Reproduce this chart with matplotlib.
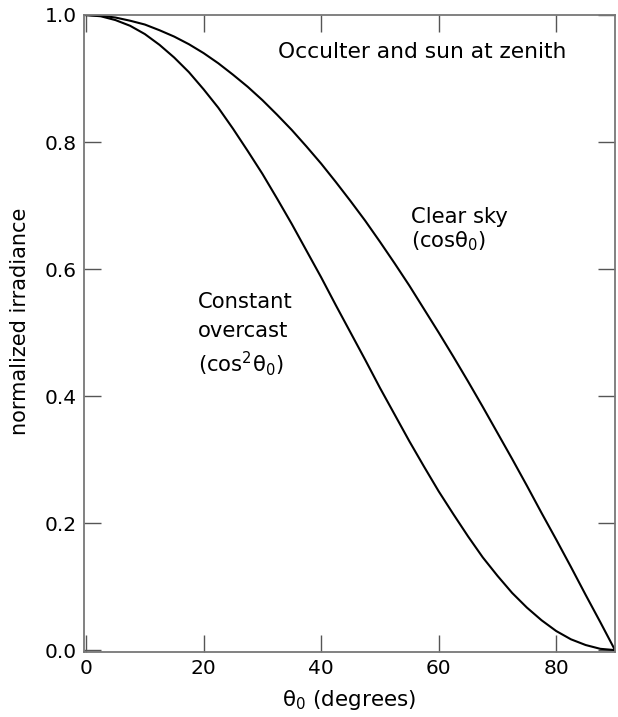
import numpy as np
import matplotlib; matplotlib.use("Agg")
import matplotlib.pyplot as plt

# ── Data (2.5 degree steps) ───────────────────────────────────────────
theta = [0, 2.5, 5, 7.5, 10, 12.5, 15, 17.5, 20, 22.5, 25, 27.5, 30, 32.5, 35,
         37.5, 40, 42.5, 45, 47.5, 50, 52.5, 55, 57.5, 60, 62.5, 65, 67.5, 70,
         72.5, 75, 77.5, 80, 82.5, 85, 87.5, 90]
clear_sky = [1.000, 0.999, 0.996, 0.991, 0.985, 0.976, 0.966, 0.954, 0.940, 0.924,
             0.906, 0.887, 0.866, 0.843, 0.819, 0.793, 0.766, 0.737, 0.707, 0.676,
             0.643, 0.609, 0.574, 0.537, 0.500, 0.462, 0.423, 0.383, 0.342, 0.301,
             0.259, 0.216, 0.174, 0.131, 0.087, 0.044, 0.000]
overcast = [1.000, 0.998, 0.992, 0.983, 0.970, 0.953, 0.933, 0.910, 0.883, 0.854,
            0.821, 0.786, 0.750, 0.711, 0.671, 0.629, 0.587, 0.543, 0.500, 0.457,
            0.413, 0.371, 0.329, 0.289, 0.250, 0.214, 0.179, 0.146, 0.117, 0.090,
            0.067, 0.047, 0.030, 0.017, 0.008, 0.002, 0.000]
xticks = [0, 20, 40, 60, 80]
yticks = [0.0, 0.2, 0.4, 0.6, 0.8, 1.0]

plt.rcParams["font.family"] = ["DejaVu Sans"]
plt.rcParams["mathtext.fontset"] = "dejavusans"

fig = plt.figure(figsize=(6.18, 7.17), dpi=100)
ax = fig.add_axes([84/618, 1 - 652/717, 531/618, 637/717])

ax.plot(theta, clear_sky, color="black", lw=1.5)
ax.plot(theta, overcast, color="black", lw=1.5)

ax.set_xlim(-0.35, 90)
ax.set_ylim(-0.003, 1.0)
ax.set_xticks(xticks)
ax.set_yticks(yticks)
ax.set_xticklabels([str(t) for t in xticks])
ax.set_yticklabels([f"{t:.1f}" for t in yticks])
for s in ax.spines.values():
    s.set_color("#777777")
    s.set_linewidth(1.3)
ax.tick_params(direction="in", length=12, width=1, color="#555555",
               top=True, right=True, labelsize=14.5, pad=5)

ax.set_xlabel(r"θ$_0$ (degrees)", fontsize=15.5, labelpad=7)
fig.text(20/618, 1 - 321/717, "normalized irradiance", fontsize=15,
         rotation=90, ha="center", va="center")

# ── Annotations (baselines placed in axes fraction) ────────────────────
fs = 15.2
kw = dict(transform=ax.transAxes, fontsize=fs, va="baseline", ha="left")
ax.text(0.366, 0.9325, "Occulter and sun at zenith",
        **{**kw, "fontsize": 15.7})
ax.text(0.616, 0.6735, "Clear sky", **kw)
ax.text(0.616, 0.6358, r"(cosθ$_0$)", **kw)
ax.text(0.214, 0.5400, "Constant", **kw)
ax.text(0.214, 0.4945, "overcast", **kw)
ax.text(0.214, 0.4396, r"(cos$^2$θ$_0$)", **kw)

fig.savefig("out.png", dpi=100)
